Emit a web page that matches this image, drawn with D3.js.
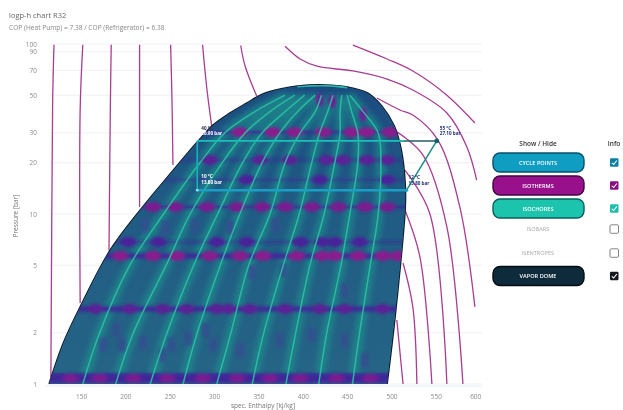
<!DOCTYPE html>
<html>
<head>
<meta charset="utf-8">
<script src="https://cdn.jsdelivr.net/npm/d3@7.9.0/dist/d3.min.js"></script>
<style>
  body { margin: 0; background: #fff; font-family: "Open Sans", sans-serif; }
  svg { display: block; filter: blur(0.45px); }
</style>
</head>
<body>
<svg id="chart" width="623" height="410"></svg>
<script>
const xTicks = [150, 200, 250, 300, 350, 400, 450, 500, 550, 600];
const yTicks = [1, 2, 5, 10, 20, 30, 50, 70, 90, 100];

// vapor dome outline [h, p]
const dome = [[114, 1], [130, 1.74], [149, 2.84], [183, 6.14], [217, 10.6], [254, 18.1], [281, 26.5], [299, 33.4],
  [318, 39.3], [337, 45], [355, 50.8], [374.5, 54.4], [394, 56.6], [425, 57.4], [450, 55.9], [473, 51.5], [489, 43.2],
  [503, 33], [511, 23.8], [515.5, 14.8], [515.5, 11], [504, 2.48], [495, 1]];

// isotherms outside the dome [h, p]
const isothermsLeft = [
  [[119.5, 99], [118, 47], [117, 9.5], [116, 1.1]],
  [[152, 99], [149, 41], [149, 3]],
  [[184, 99], [183, 41], [181.5, 6.1]],
  [[216, 99], [216, 11]],
  [[251, 99], [252.5, 47], [253.6, 19.4]],
  [[287, 99], [292, 53.6], [297.6, 32]],
  [[330, 98], [335, 74], [348, 49.5]]
];
const isothermsRight = [
  [[456.5, 98.5], [495, 81.6], [524, 69.4], [562.4, 50], [594, 34.3]],
  [[380, 97], [397, 81.6], [416, 74], [456.5, 69.4], [495, 62.2], [524, 53.6], [562.4, 39.3], [585, 24.8], [596, 15.8]],
  [[483.5, 48.1], [509.5, 40.9], [524, 38.2], [552.3, 27.2], [577, 11], [594, 2.84]],
  [[506, 30.4], [535.5, 22.2], [562.4, 8.4], [580.5, 1]],
  [[515, 18.1], [543, 10.1], [562.4, 1]],
  [[515, 10.6], [532, 5.6], [545.5, 1]],
  [[513, 5.15], [524, 2.84], [528.6, 1]],
  [[506, 2.38], [513, 1]]
];

// isochores: enthalpy at each of these pressures
const isochoreP = [1, 2, 5, 10, 20, 30, 40, 50];
const isochoreH = [
  [152, 171, 205, 243, 284, 312, 346, 380],
  [189, 209, 246, 273, 309, 335, 363, 391],
  [228, 247, 277, 304, 332, 354, 380, 402],
  [265, 281, 307, 329, 354, 374, 394, 414],
  [303, 319, 339, 363, 380, 397, 414, 421],
  [343, 356, 378, 396, 410, 419, 428, 434],
  [381, 392, 408, 424, 436, 442, 442, 444],
  [418, 427, 443, 453, 462, 462, 455, 450],
  [456, 464, 476, 485, 488, 485, 468, 453]
];

// two-phase isotherm bands and the dark spots along them
const bandP = [1.08, 2.76, 5.66, 6.85, 11, 15.9, 20.8, 30.3];
const bandSpots = [
  [138, 171, 209, 247, 287, 326, 363, 397, 438, 476],
  [166, 205, 242, 269, 303, 316, 340, 380, 419, 447, 490],
  [194, 231, 258, 295, 329, 355, 393, 422, 436, 462, 490, 507],
  [203, 237, 303, 337, 397, 422, 436, 464],
  [231, 256, 292, 326, 354, 380, 410, 440, 470, 495],
  [337, 419, 495],
  [295, 352, 385, 427, 445, 472, 495],
  [329, 366, 391, 423, 455, 472, 498]
];
const bandColor = ["#7a1c90", "#5a2096", "#8a1b8e", "#4a229a", "#7a1c90", "#4a229a", "#5a2096", "#8a1b8e"];
const topSpots = [[419, 46.9], [433, 46], [468, 38.6]];
const patches = [[196, 1.7], [220, 1.74], [190, 2.08], [175, 1.7], [271, 1.86], [299, 1.7], [290, 2.08],
  [222, 8.6], [245, 8.3], [278, 8.6], [318, 8.3], [343, 4.56], [378, 4.68], [369, 8.6], [447, 3.57],
  [410, 1.94], [470, 1.38], [374, 1.81], [329, 1.58], [242, 1.48], [252, 1.7], [447, 1.81]];

// refrigeration cycle
const cycleLeft = [[281, 26.9], [281, 13.8]];
const cycleLow = [[281, 13.8], [517, 13.8]];
const cycleHigh = [[281, 26.9], [551, 26.9]];
const cycleDiag = [[517, 13.8], [551, 26.9]];

const pointLabels = [
  { h: 281, p: 26.9, t: ["40 °C", "26.90 bar"], dx: 4, dy: -11, c: ["#2a2a50", "#ffffff"] },
  { h: 281, p: 13.8, t: ["10 °C", "13.80 bar"], dx: 4, dy: -12, c: ["#ffffff", "#ffffff"] },
  { h: 551, p: 26.9, t: ["55 °C", "27.10 bar"], dx: 3, dy: -11, c: ["#23307a", "#23307a"] },
  { h: 517, p: 13.8, t: ["12 °C", "13.80 bar"], dx: 2, dy: -11, c: ["#23307a", "#23307a"] }
];

const buttons = ["CYCLE POINTS", "ISOTHERMS", "ISOCHORES", "ISOBARS", "ISENTROPES", "VAPOR DOME"];
const buttonFill = ["#0f9dc2", "#98108c", "#1cc4ad", null, null, "#0e2b3c"];
const buttonEdge = ["#0a4f68", "#3f0640", "#09605c", null, null, "#050a10"];
const buttonY = [162.5, 185.5, 208.5, 229, 253, 276];
const checkFill = ["#0b7ea3", "#8a0f80", "#1cbfae", null, null, "#16161f"];

const svg = d3.select("#chart");
const x = d3.scaleLinear().domain([115, 602]).range([50, 482]);
const y = d3.scaleLog().domain([1, 100]).range([384, 44]);
const line = d3.line().x(d => x(d[0])).y(d => y(d[1])).curve(d3.curveCatmullRom);
const straight = d3.line().x(d => x(d[0])).y(d => y(d[1]));

const defs = svg.append("defs");
defs.append("clipPath").attr("id", "domeClip").append("path").attr("d", line(dome) + "Z");
defs.append("filter").attr("id", "soft").append("feGaussianBlur").attr("stdDeviation", 1.5);
defs.append("filter").attr("id", "softer").append("feGaussianBlur").attr("stdDeviation", 3);
const grad = defs.append("linearGradient").attr("id", "domeFill").attr("x1", 0).attr("x2", 0).attr("y1", 0).attr("y2", 1);
grad.append("stop").attr("offset", "0%").attr("stop-color", "#1c4a80");
grad.append("stop").attr("offset", "35%").attr("stop-color", "#205a84");
grad.append("stop").attr("offset", "100%").attr("stop-color", "#266586");

// grid
svg.append("g").selectAll("line").data(yTicks).join("line")
  .attr("x1", 50).attr("x2", 482)
  .attr("y1", d => y(d)).attr("y2", d => y(d))
  .attr("stroke", "#f1f1f1").attr("stroke-width", 1);
svg.append("line").attr("x1", 46).attr("x2", 482).attr("y1", 386).attr("y2", 386)
  .attr("stroke", "#dff2f2").attr("stroke-width", 1);

// axes
const xAxis = svg.append("g").attr("transform", "translate(0,384)")
  .call(d3.axisBottom(x).tickValues(xTicks).tickSize(0).tickPadding(10).tickFormat(d3.format("d")));
const yAxis = svg.append("g").attr("transform", "translate(50,0)")
  .call(d3.axisLeft(y).tickValues(yTicks).tickSize(0).tickPadding(13).tickFormat(d3.format("d")));
xAxis.select(".domain").remove();
yAxis.select(".domain").remove();
svg.selectAll(".tick text").attr("fill", "#8a8a8a").style("font-size", "6.5px").style("font-family", "'Open Sans'");
xAxis.selectAll(".tick text").filter(d => d === 600).attr("dx", -5);

// isotherms outside
const isoLines = svg.append("g").attr("fill", "none").attr("stroke", "#a93d92").attr("stroke-width", 1.3);
isoLines.selectAll("path").data(isothermsLeft.concat(isothermsRight)).join("path").attr("d", line);

// dome interior
const inside = svg.append("g").attr("clip-path", "url(#domeClip)");
inside.append("path").attr("d", line(dome) + "Z").attr("fill", "url(#domeFill)");

const isochores = isochoreH.map(hs => hs.map((h, i) => [h, isochoreP[i]]));
inside.append("g").attr("filter", "url(#softer)").attr("fill", "none")
  .attr("stroke", "#1c9a8e").attr("stroke-width", 9).attr("opacity", 0.65)
  .selectAll("path").data(isochores).join("path").attr("d", line);

const spots = inside.append("g").attr("filter", "url(#soft)");
spots.selectAll("rect.patch").data(patches).join("rect").attr("class", "patch")
  .attr("x", d => x(d[0]) - 4).attr("y", d => y(d[1]) - 7)
  .attr("width", 8).attr("height", 14).attr("fill", "#34508f").attr("opacity", 0.85);
spots.selectAll("line.band").data(bandP).join("line").attr("class", "band")
  .attr("x1", 40).attr("x2", 420)
  .attr("y1", d => y(d)).attr("y2", d => y(d))
  .attr("stroke", "#42239a").attr("stroke-width", (d, i) => i === 0 ? 10 : (i === 1 || i === 2 ? 5 : 2.5))
  .attr("opacity", (d, i) => (i < 3 || i === 4 || i === 7) ? 0.95 : 0.55);
bandP.forEach((p, i) => {
  spots.append("g").selectAll("ellipse").data(bandSpots[i]).join("ellipse")
    .attr("cx", d => x(d)).attr("cy", y(p))
    .attr("rx", 8).attr("ry", i === 0 ? 4 : 5)
    .attr("fill", bandColor[i]);
});
spots.selectAll("ellipse.top").data(topSpots).join("ellipse").attr("class", "top")
  .attr("cx", d => x(d[0])).attr("cy", d => y(d[1]))
  .attr("rx", 4).attr("ry", 7).attr("fill", "#6a2096");

inside.append("g").attr("fill", "none").attr("stroke", "#2cc0a4").attr("stroke-width", 1.5).attr("opacity", 0.9)
  .selectAll("path").data(isochores).join("path").attr("d", line);

// dome outline
svg.append("path").attr("d", line(dome))
  .attr("fill", "none").attr("stroke", "#0d1b24").attr("stroke-width", 1.6);
inside.append("path").attr("d", line(dome.slice(12, 15))).attr("fill", "none")
  .attr("stroke", "#28b8a8").attr("stroke-width", 3);
svg.node().appendChild(inside.node());

// cycle
const cycle = svg.append("g").attr("fill", "none");
cycle.append("path").attr("d", straight(cycleHigh)).attr("stroke", "#1f5f63").attr("stroke-width", 1.5);
cycle.append("path").attr("d", straight([cycleHigh[0], [514, 26.9]])).attr("stroke", "#1cc0bb").attr("stroke-width", 1.8);
cycle.append("path").attr("d", straight(cycleLeft)).attr("stroke", "#17b0bb").attr("stroke-width", 1.6);
cycle.append("path").attr("d", straight(cycleLow)).attr("stroke", "#1a9ec4").attr("stroke-width", 2.4);
cycle.append("path").attr("d", straight(cycleDiag)).attr("stroke", "#1a8d80").attr("stroke-width", 1.5);
svg.append("circle").attr("cx", x(551)).attr("cy", y(26.9)).attr("r", 2.4).attr("fill", "#12606a");
svg.append("circle").attr("cx", x(517)).attr("cy", y(13.8)).attr("r", 1.6).attr("fill", "#1aa0c0");
svg.append("circle").attr("cx", x(281)).attr("cy", y(13.8)).attr("r", 1.4).attr("fill", "#8fe0ee");

// point labels
pointLabels.forEach(l => {
  const g = svg.append("g").attr("transform", `translate(${x(l.h) + l.dx},${y(l.p) + l.dy})`);
  l.t.forEach((s, i) => {
    g.append("text").attr("y", i * 5.5).text(s).attr("fill", l.c[i])
      .style("font-size", "4.6px").style("font-weight", "bold");
  });
});

// titles
svg.append("text").attr("x", 9).attr("y", 18).text("logp-h chart R32")
  .attr("fill", "#666").style("font-size", "7.5px");
svg.append("text").attr("x", 9).attr("y", 30).text("COP (Heat Pump) = 7.38 / COP (Refrigerator) = 6.38")
  .attr("fill", "#888").style("font-size", "6.6px");
svg.append("text").attr("x", 263).attr("y", 408).attr("text-anchor", "middle").text("spec. Enthalpy [kJ/kg]")
  .attr("fill", "#777").style("font-size", "6.5px");
svg.append("text").attr("transform", "translate(18,216) rotate(-90)").attr("text-anchor", "middle").text("Pressure [bar]")
  .attr("fill", "#777").style("font-size", "6.5px");

// show / hide panel
svg.append("text").attr("x", 538).attr("y", 146).attr("text-anchor", "middle").text("Show / Hide")
  .attr("fill", "#333").style("font-size", "6.5px").style("font-weight", "600");
svg.append("text").attr("x", 614).attr("y", 146).attr("text-anchor", "middle").text("Info")
  .attr("fill", "#333").style("font-size", "6.5px").style("font-weight", "600");

const panel = svg.append("g").selectAll("g").data(buttons).join("g");
panel.filter((d, i) => buttonFill[i]).append("rect")
  .attr("x", 493).attr("width", 91).attr("height", 19).attr("rx", 7)
  .attr("y", d => buttonY[buttons.indexOf(d)] - 9.5)
  .attr("fill", d => buttonFill[buttons.indexOf(d)])
  .attr("stroke", d => buttonEdge[buttons.indexOf(d)]).attr("stroke-width", 1.4);
panel.append("text").attr("x", 538).attr("text-anchor", "middle")
  .attr("y", (d, i) => buttonY[i] + 2)
  .text(d => d)
  .attr("fill", (d, i) => buttonFill[i] ? "#fff" : "#aaa")
  .style("font-size", "5.6px").style("font-weight", (d, i) => buttonFill[i] ? "600" : "400");
panel.append("rect").attr("x", 610).attr("width", 8.5).attr("height", 8.5).attr("rx", 1.2)
  .attr("y", (d, i) => buttonY[i] - 4.2)
  .attr("fill", (d, i) => checkFill[i] || "#fff")
  .attr("stroke", (d, i) => checkFill[i] ? "none" : "#777").attr("stroke-width", 0.9);
panel.filter((d, i) => checkFill[i]).append("path")
  .attr("d", d => { const c = buttonY[buttons.indexOf(d)]; return `M611.8,${c + 0.3}L613.7,${c + 2}L616.8,${c - 2}`; })
  .attr("fill", "none").attr("stroke", "#fff").attr("stroke-width", 1.1);
</script>
</body>
</html>
